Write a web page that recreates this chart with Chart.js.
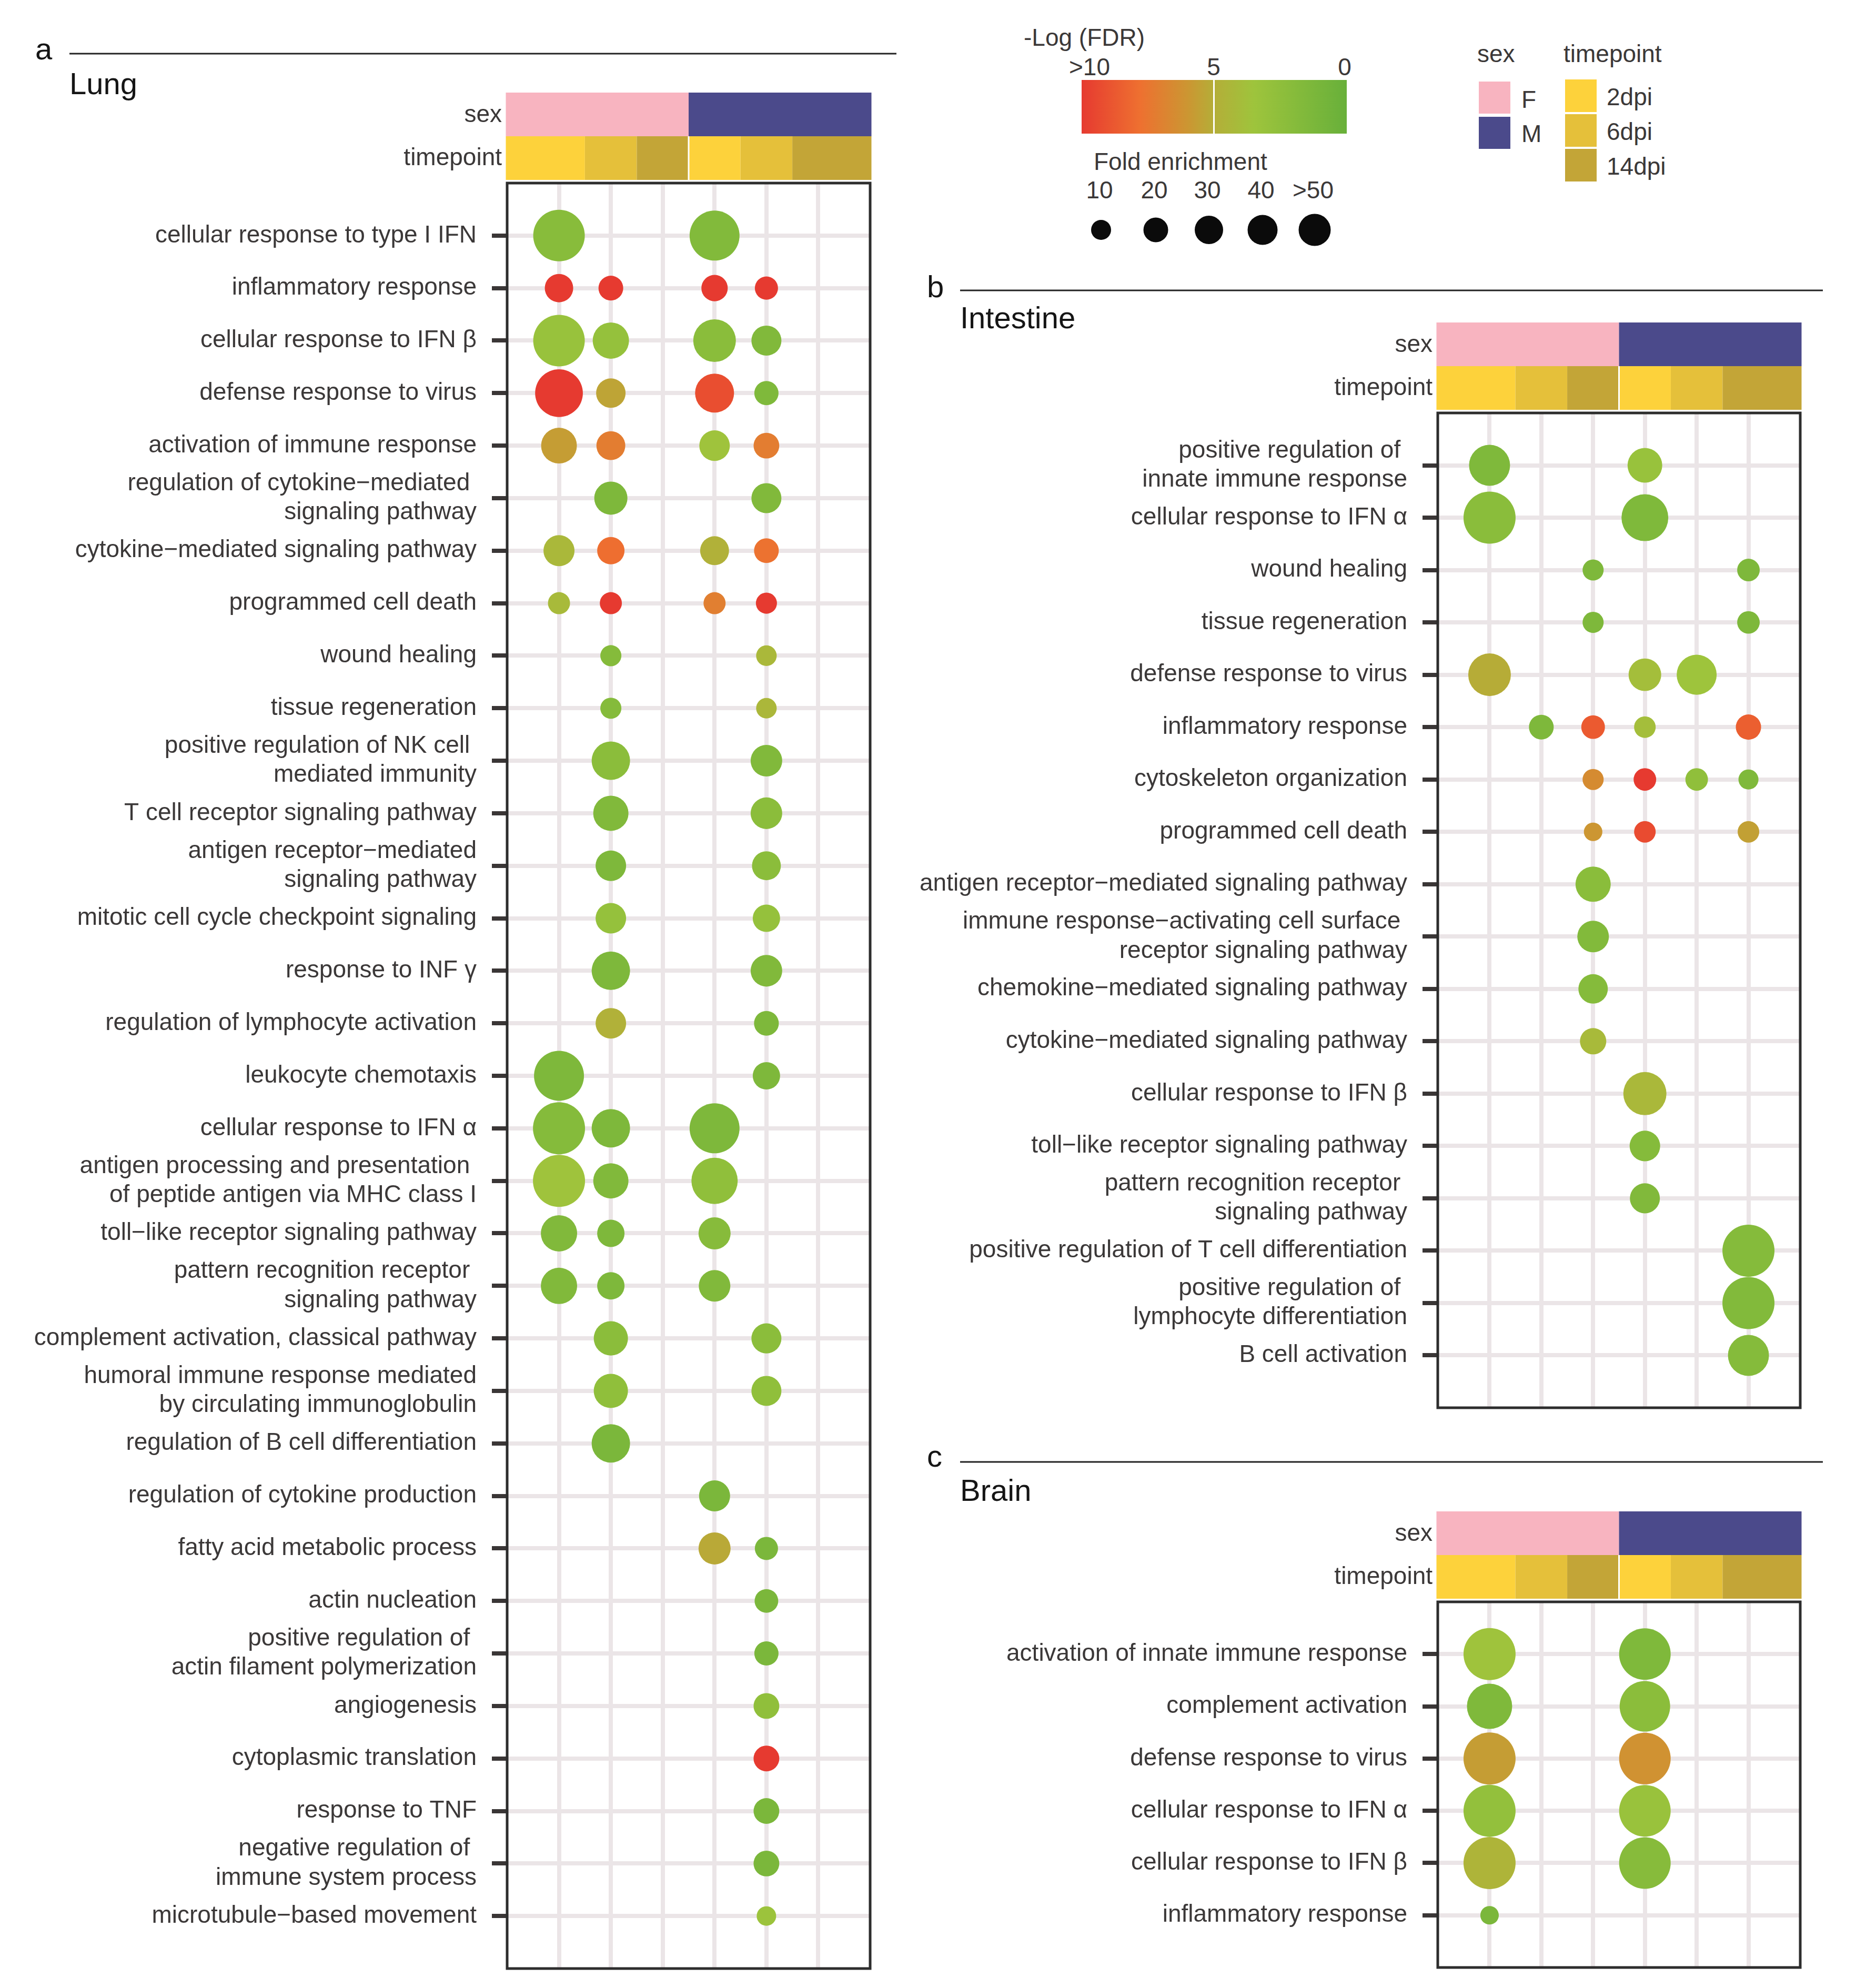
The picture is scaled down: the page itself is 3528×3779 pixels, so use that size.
<!DOCTYPE html>
<html>
<head>
<meta charset="utf-8">
<script src="https://cdn.jsdelivr.net/npm/chart.js@4.4.0/dist/chart.umd.min.js"></script>
<style>
  body { margin: 0; background: #fff; width: 3528px; height: 3779px; position: relative; overflow: hidden;
         font-family: 'Liberation Sans', Arial, sans-serif; color: #3b3838; }
  canvas { position: absolute; }
  .t { position: absolute; font-size: 46px; line-height: 46px; white-space: nowrap; }
  .c { transform: translateX(-50%); }
  .sw { position: absolute; width: 60px; height: 61px; }
  .dot { position: absolute; background: #0b0b0b; border-radius: 50%; transform: translate(-50%, -50%); }
</style>
</head>
<body>
<canvas id="lung" width="1720" height="3779" style="left:0;top:0"></canvas>
<canvas id="intestine" width="1808" height="2220" style="left:1720px;top:480px"></canvas>
<canvas id="brain" width="1808" height="1079" style="left:1720px;top:2700px"></canvas>

<!-- legends -->
<div class="t" style="left:1946px;top:48px">-Log (FDR)</div>
<div id="fdrBar" style="position:absolute;left:2056px;top:152px;width:504px;height:102px"></div>
<div style="position:absolute;left:2306px;top:152px;width:3px;height:102px;background:#fff"></div>
<div id="fdrTicks"></div>
<div class="t" style="left:2079px;top:284px">Fold enrichment</div>
<div id="sizeKey"></div>
<div class="t" style="left:2808px;top:79px">sex</div>
<div class="t" style="left:2972px;top:79px">timepoint</div>
<div id="groupKey"></div>

<script>
// ---- data ----
const sexes = ['F', 'M'];
const timepoints = ['2dpi', '6dpi', '14dpi'];

const lungTerms = [
  'cellular response to type I IFN',
  'inflammatory response',
  'cellular response to IFN β',
  'defense response to virus',
  'activation of immune response',
  ['regulation of cytokine−mediated ', 'signaling pathway'],
  'cytokine−mediated signaling pathway',
  'programmed cell death',
  'wound healing',
  'tissue regeneration',
  ['positive regulation of NK cell ', 'mediated immunity'],
  'T cell receptor signaling pathway',
  ['antigen receptor−mediated', 'signaling pathway'],
  'mitotic cell cycle checkpoint signaling',
  'response to INF γ',
  'regulation of lymphocyte activation',
  'leukocyte chemotaxis',
  'cellular response to IFN α',
  ['antigen processing and presentation ', 'of peptide antigen via MHC class I'],
  'toll−like receptor signaling pathway',
  ['pattern recognition receptor ', 'signaling pathway'],
  'complement activation, classical pathway',
  ['humoral immune response mediated', 'by circulating immunoglobulin'],
  'regulation of B cell differentiation',
  'regulation of cytokine production',
  'fatty acid metabolic process',
  'actin nucleation',
  ['positive regulation of ', 'actin filament polymerization'],
  'angiogenesis',
  'cytoplasmic translation',
  'response to TNF',
  ['negative regulation of ', 'immune system process'],
  'microtubule−based movement'
];
// columns: F 2dpi, F 6dpi, F 14dpi, M 2dpi, M 6dpi, M 14dpi
const lungFold = [
  [49, null, null, 46, null, null],
  [14.9, 11.3, null, 12.8, 9.9, null],
  [49, 24.3, null, 33.5, 16.6, null],
  [42, 16, null, 28, 10.8, null],
  [23.6, 15.4, null, 17.2, 12.2, null],
  [null, 20.3, null, null, 16.6, null],
  [17.8, 13.8, null, 15.4, 11.3, null],
  [9, 9, null, 9, 8.2, null],
  [null, 8.2, null, null, 7.8, null],
  [null, 8.2, null, null, 7.8, null],
  [null, 27.2, null, null, 18.4, null],
  [null, 22.9, null, null, 18.4, null],
  [null, 17.2, null, null, 15.4, null],
  [null, 17.2, null, null, 13.8, null],
  [null, 27.2, null, null, 18.4, null],
  [null, 17.2, null, null, 11.3, null],
  [46, null, null, null, 13.8, null],
  [50, 27.2, null, 46, null, null],
  [50, 22.9, null, 39.5, null, null],
  [24.3, 13.8, null, 19, null, null],
  [24.3, 13.8, null, 18.4, null, null],
  [null, 21.6, null, null, 16.6, null],
  [null, 21.6, null, null, 16.6, null],
  [null, 27.2, null, null, null, null],
  [null, null, null, 17.8, null, null],
  [null, null, null, 19, 9.9, null],
  [null, null, null, null, 10.3, null],
  [null, null, null, null, 10.8, null],
  [null, null, null, null, 12.2, null],
  [null, null, null, null, 12.2, null],
  [null, null, null, null, 12.2, null],
  [null, null, null, null, 12.2, null],
  [null, null, null, null, 7, null]
];
const lungLogFdr = [
  [2.1, null, null, 1.7, null, null],
  [10, 10, null, 10, 10, null],
  [3.1, 2.9, null, 2.2, 1.6, null],
  [10, 5.4, null, 9.2, 1.5, null],
  [5.7, 7.2, null, 3.6, 7.2, null],
  [null, 1.4, null, null, 1.6, null],
  [4.3, 7.9, null, 4.8, 7.7, null],
  [4.2, 10, null, 7.1, 10, null],
  [null, 1.9, null, null, 4.3, null],
  [null, 1.9, null, null, 4.4, null],
  [null, 2.3, null, null, 1.6, null],
  [null, 1.6, null, null, 2.3, null],
  [null, 1.4, null, null, 2.3, null],
  [null, 2.9, null, null, 2.9, null],
  [null, 1.4, null, null, 1.6, null],
  [null, 4.8, null, null, 1.4, null],
  [1.4, null, null, null, 1.4, null],
  [1.9, 1.4, null, 1.4, null, null],
  [3.6, 1.6, null, 2.6, null, null],
  [1.6, 1.4, null, 2.0, null, null],
  [1.6, 1.4, null, 1.6, null, null],
  [null, 2.3, null, null, 2.3, null],
  [null, 2.6, null, null, 2.6, null],
  [null, 1.2, null, null, null, null],
  [null, null, null, 1.2, null, null],
  [null, null, null, 5.2, 1.2, null],
  [null, null, null, null, 1.2, null],
  [null, null, null, null, 1.2, null],
  [null, null, null, null, 2.6, null],
  [null, null, null, null, 10, null],
  [null, null, null, null, 1.2, null],
  [null, null, null, null, 1.2, null],
  [null, null, null, null, 3.4, null]
];

const intestineTerms = [
  ['positive regulation of ', 'innate immune response'],
  'cellular response to IFN α',
  'wound healing',
  'tissue regeneration',
  'defense response to virus',
  'inflammatory response',
  'cytoskeleton organization',
  'programmed cell death',
  'antigen receptor−mediated signaling pathway',
  ['immune response−activating cell surface ', 'receptor signaling pathway'],
  'chemokine−mediated signaling pathway',
  'cytokine−mediated signaling pathway',
  'cellular response to IFN β',
  'toll−like receptor signaling pathway',
  ['pattern recognition receptor ', 'signaling pathway'],
  'positive regulation of T cell differentiation',
  ['positive regulation of ', 'lymphocyte differentiation'],
  'B cell activation'
];
const intestineFold = [
  [31, null, null, 22.2, null, null],
  [51, null, null, 40.4, null, null],
  [null, null, 8.2, null, null, 9.4],
  [null, null, 8.2, null, null, 9.4],
  [33.5, null, null, 19.6, 29.5, null],
  [null, 11.3, 10.3, 8.6, null, 11.8],
  [null, null, 8.2, 9.4, 9.4, 7.4],
  [null, null, 6.3, 8.6, null, 8.6],
  [null, null, 22.9, null, null, null],
  [null, null, 18.4, null, null, null],
  [null, null, 16, null, null, null],
  [null, null, 12.8, null, null, null],
  [null, null, null, 34.3, null, null],
  [null, null, null, 17.2, null, null],
  [null, null, null, 16.6, null, null],
  [null, null, null, null, null, 50],
  [null, null, null, null, null, 50],
  [null, null, null, null, null, 31]
];
const intestineLogFdr = [
  [1.5, null, null, 3.1, null, null],
  [2.2, null, null, 1.5, null, null],
  [null, null, 1.4, null, null, 1.4],
  [null, null, 1.4, null, null, 1.4],
  [5.1, null, null, 3.9, 3.5, null],
  [null, 1.4, 8.7, 3.9, null, 8.5],
  [null, null, 6.5, 10, 2.6, 1.5],
  [null, null, 6.0, 9.3, null, 5.6],
  [null, null, 2.2, null, null, null],
  [null, null, 1.7, null, null, null],
  [null, null, 1.9, null, null, null],
  [null, null, 4.2, null, null, null],
  [null, null, null, 4.3, null, null],
  [null, null, null, 1.9, null, null],
  [null, null, null, 1.6, null, null],
  [null, null, null, null, null, 1.9],
  [null, null, null, null, null, 1.7],
  [null, null, null, null, null, 1.9]
];

const brainTerms = [
  'activation of innate immune response',
  'complement activation',
  'defense response to virus',
  'cellular response to IFN α',
  'cellular response to IFN β',
  'inflammatory response'
];
const brainFold = [
  [50, null, null, 49, null, null],
  [37.7, null, null, 47, null, null],
  [50, null, null, 49, null, null],
  [50, null, null, 49, null, null],
  [50, null, null, 49, null, null],
  [6.3, null, null, null, null, null]
];
const brainLogFdr = [
  [3.6, null, null, 1.5, null, null],
  [1.5, null, null, 2.3, null, null],
  [5.7, null, null, 6.2, null, null],
  [2.8, null, null, 3.2, null, null],
  [4.6, null, null, 2.0, null, null],
  [1.2, null, null, null, null, null]
];

const fdrTickLabels = ['>10', '5', '0'];
const foldKeyLabels = ['10', '20', '30', '40', '>50'];

// ---- styles ----
Chart.defaults.font.family = "'Liberation Sans', Arial, sans-serif";
const textCol = '#3b3838';
const gridCol = '#ebe5e7';
const sexCol = { F: '#f8b4c0', M: '#4b4a8b' };
const timeCol = { '2dpi': '#fdd23b', '6dpi': '#e5c03a', '14dpi': '#c3a537' };
const fdrStops = [[0, '#68b03a'], [3.5, '#9ec43c'], [5, '#b4ae38'], [6, '#cc9632'], [7.8, '#ee7030'], [10, '#e63a30']];

function hex(c) { return [1, 3, 5].map(i => parseInt(c.substr(i, 2), 16)); }
function fdrColor(v) {
  v = Math.max(0, Math.min(10, v));
  for (let i = 1; i < fdrStops.length; i++) {
    const [v0, c0] = fdrStops[i - 1], [v1, c1] = fdrStops[i];
    if (v <= v1) {
      const t = (v - v0) / (v1 - v0), a = hex(c0), b = hex(c1);
      return 'rgb(' + a.map((x, k) => Math.round(x + (b[k] - x) * t)).join(',') + ')';
    }
  }
  return fdrStops[fdrStops.length - 1][1];
}

const columns = [];
sexes.forEach(s => timepoints.forEach(t => columns.push({ sex: s, time: t })));

function points(fold, fdr) {
  const pts = [];
  fold.forEach((row, i) => row.forEach((fe, j) => {
    if (fe == null) return;
    pts.push({ x: j + 1, y: i + 1, r: 7 * Math.sqrt(Math.min(fe, 50)), f: fdr[i][j] });
  }));
  return pts;
}

// frame, annotation bars, panel title
const panelDeco = {
  id: 'panelDeco',
  afterDatasetsDraw(chart, args, o) {
    const { ctx, chartArea: a, scales: { x } } = chart;
    ctx.save();
    const n = columns.length;
    const edge = k => x.getPixelForValue(k === 0 ? 0 : k === n ? n + 1 : k + 0.5);
    const barH = 83, tTop = a.top - 6 - barH, sTop = tTop - barH;
    const l = a.left - 2.5, r = a.right + 2.5;
    // sex row
    sexes.forEach((s, si) => {
      const x0 = si === 0 ? l : edge(si * 3), x1 = si === sexes.length - 1 ? r : edge((si + 1) * 3);
      ctx.fillStyle = sexCol[s];
      ctx.fillRect(x0, sTop, x1 - x0, barH);
    });
    // timepoint row
    columns.forEach((c, j) => {
      const x0 = j === 0 ? l : edge(j), x1 = j === n - 1 ? r : edge(j + 1);
      ctx.fillStyle = timeCol[c.time];
      ctx.fillRect(x0, tTop, x1 - x0, barH);
    });
    ctx.fillStyle = '#fff';
    ctx.fillRect(edge(3) - 1.5, tTop, 3, barH);
    ctx.font = "46px 'Liberation Sans', Arial, sans-serif";
    ctx.fillStyle = textCol;
    ctx.textAlign = 'right';
    ctx.textBaseline = 'alphabetic';
    ctx.fillText('sex', a.left - 10, sTop + barH / 2 + 14);
    ctx.fillText('timepoint', a.left - 10, tTop + barH / 2 + 13);
    // frame
    ctx.lineWidth = 5;
    ctx.strokeStyle = '#2d2d2d';
    ctx.strokeRect(a.left, a.top, a.right - a.left, a.bottom - a.top);
    // header
    ctx.strokeStyle = '#222';
    ctx.lineWidth = 3;
    ctx.beginPath();
    ctx.moveTo(o.rule[0], o.rule[2]);
    ctx.lineTo(o.rule[1], o.rule[2]);
    ctx.stroke();
    ctx.fillStyle = '#151515';
    ctx.textAlign = 'left';
    ctx.font = "58px 'Liberation Sans', Arial, sans-serif";
    ctx.fillText(o.letter, o.letterPos[0], o.letterPos[1]);
    ctx.fillText(o.title, o.titlePos[0], o.titlePos[1]);
    ctx.restore();
  }
};

function makePanel(id, terms, fold, fdr, deco) {
  const nCol = columns.length;
  return new Chart(document.getElementById(id), {
    type: 'bubble',
    data: {
      datasets: [{
        data: points(fold, fdr),
        backgroundColor: c => (c.raw ? fdrColor(c.raw.f) : '#888'),
        borderWidth: 0,
        hoverRadius: 0
      }]
    },
    options: {
      responsive: false,
      animation: false,
      devicePixelRatio: 1,
      events: [],
      layout: { padding: deco.pad, autoPadding: false },
      plugins: { legend: { display: false }, tooltip: { enabled: false }, panelDeco: deco },
      scales: {
        x: {
          type: 'linear', min: 0, max: nCol + 1,
          afterBuildTicks: s => { s.ticks = columns.map((c, j) => ({ value: j + 1 })); },
          afterFit: s => { s.height = 0; s.paddingLeft = 0; s.paddingRight = 0; },
          ticks: { display: false },
          grid: { color: gridCol, lineWidth: 8, drawTicks: false },
          border: { display: false }
        },
        y: {
          type: 'linear', reverse: true, min: 0, max: terms.length + 1,
          afterBuildTicks: s => { s.ticks = terms.map((t, i) => ({ value: i + 1 })); },
          // fixed axis width; labels sit inside the padded rows so no extra margin
          afterFit: s => { s.width = deco.axisW; s.paddingTop = 0; s.paddingBottom = 0; },
          ticks: {
            autoSkip: false,
            callback: v => terms[v - 1],
            font: { size: 46 },
            color: textCol,
            padding: 29
          },
          grid: { color: gridCol, lineWidth: 8, tickLength: 29, tickColor: '#3a3636', tickWidth: 8 },
          border: { display: false }
        }
      }
    },
    plugins: [panelDeco]
  });
}

makePanel('lung', lungTerms, lungFold, lungLogFdr, {
  pad: { left: 0, top: 348, right: 66, bottom: 37 }, axisW: 964,
  letter: 'a', letterPos: [67, 113], title: 'Lung', titlePos: [132, 179], rule: [132, 1704, 102]
});
makePanel('intestine', intestineTerms, intestineFold, intestineLogFdr, {
  pad: { left: 0, top: 305, right: 106, bottom: 24 }, axisW: 1013,
  letter: 'b', letterPos: [42, 85], title: 'Intestine', titlePos: [105, 144], rule: [105, 1745, 72]
});
makePanel('brain', brainTerms, brainFold, brainLogFdr, {
  pad: { left: 0, top: 345, right: 106, bottom: 39 }, axisW: 1013,
  letter: 'c', letterPos: [42, 88], title: 'Brain', titlePos: [105, 153], rule: [105, 1745, 79]
});

// ---- legends ----
const barStops = fdrStops.map(([v, c]) => c + ' ' + (100 - v * 10) + '%').reverse();
document.getElementById('fdrBar').style.background = 'linear-gradient(to right, ' + barStops.join(', ') + ')';

const fdrTickX = [2071, 2307, 2556];
document.getElementById('fdrTicks').innerHTML = fdrTickLabels
  .map((s, i) => `<div class="t c" style="left:${fdrTickX[i]}px;top:104px">${s.replace('>', '&gt;')}</div>`).join('');

const keyX = [2090, 2194, 2295, 2397, 2496];
const keyD = [38, 47, 54, 57, 61];
document.getElementById('sizeKey').innerHTML = foldKeyLabels.map((s, i) =>
  `<div class="t c" style="left:${keyX[i]}px;top:338px">${s.replace('>', '&gt;')}</div>` +
  `<div class="dot" style="left:${keyX[i] + 3}px;top:437px;width:${keyD[i]}px;height:${keyD[i]}px"></div>`).join('');

let g = '';
sexes.forEach((s, i) => {
  g += `<div class="sw" style="left:2811px;top:${155 + i * 67}px;background:${sexCol[s]}"></div>`;
  g += `<div class="t" style="left:2892px;top:${166 + i * 65}px">${s}</div>`;
});
timepoints.forEach((t, i) => {
  g += `<div class="sw" style="left:2975px;top:${151 + i * 66}px;height:62px;background:${timeCol[t]}"></div>`;
  g += `<div class="t" style="left:3054px;top:${161 + i * 66}px">${t}</div>`;
});
document.getElementById('groupKey').innerHTML = g;
</script>
</body>
</html>
